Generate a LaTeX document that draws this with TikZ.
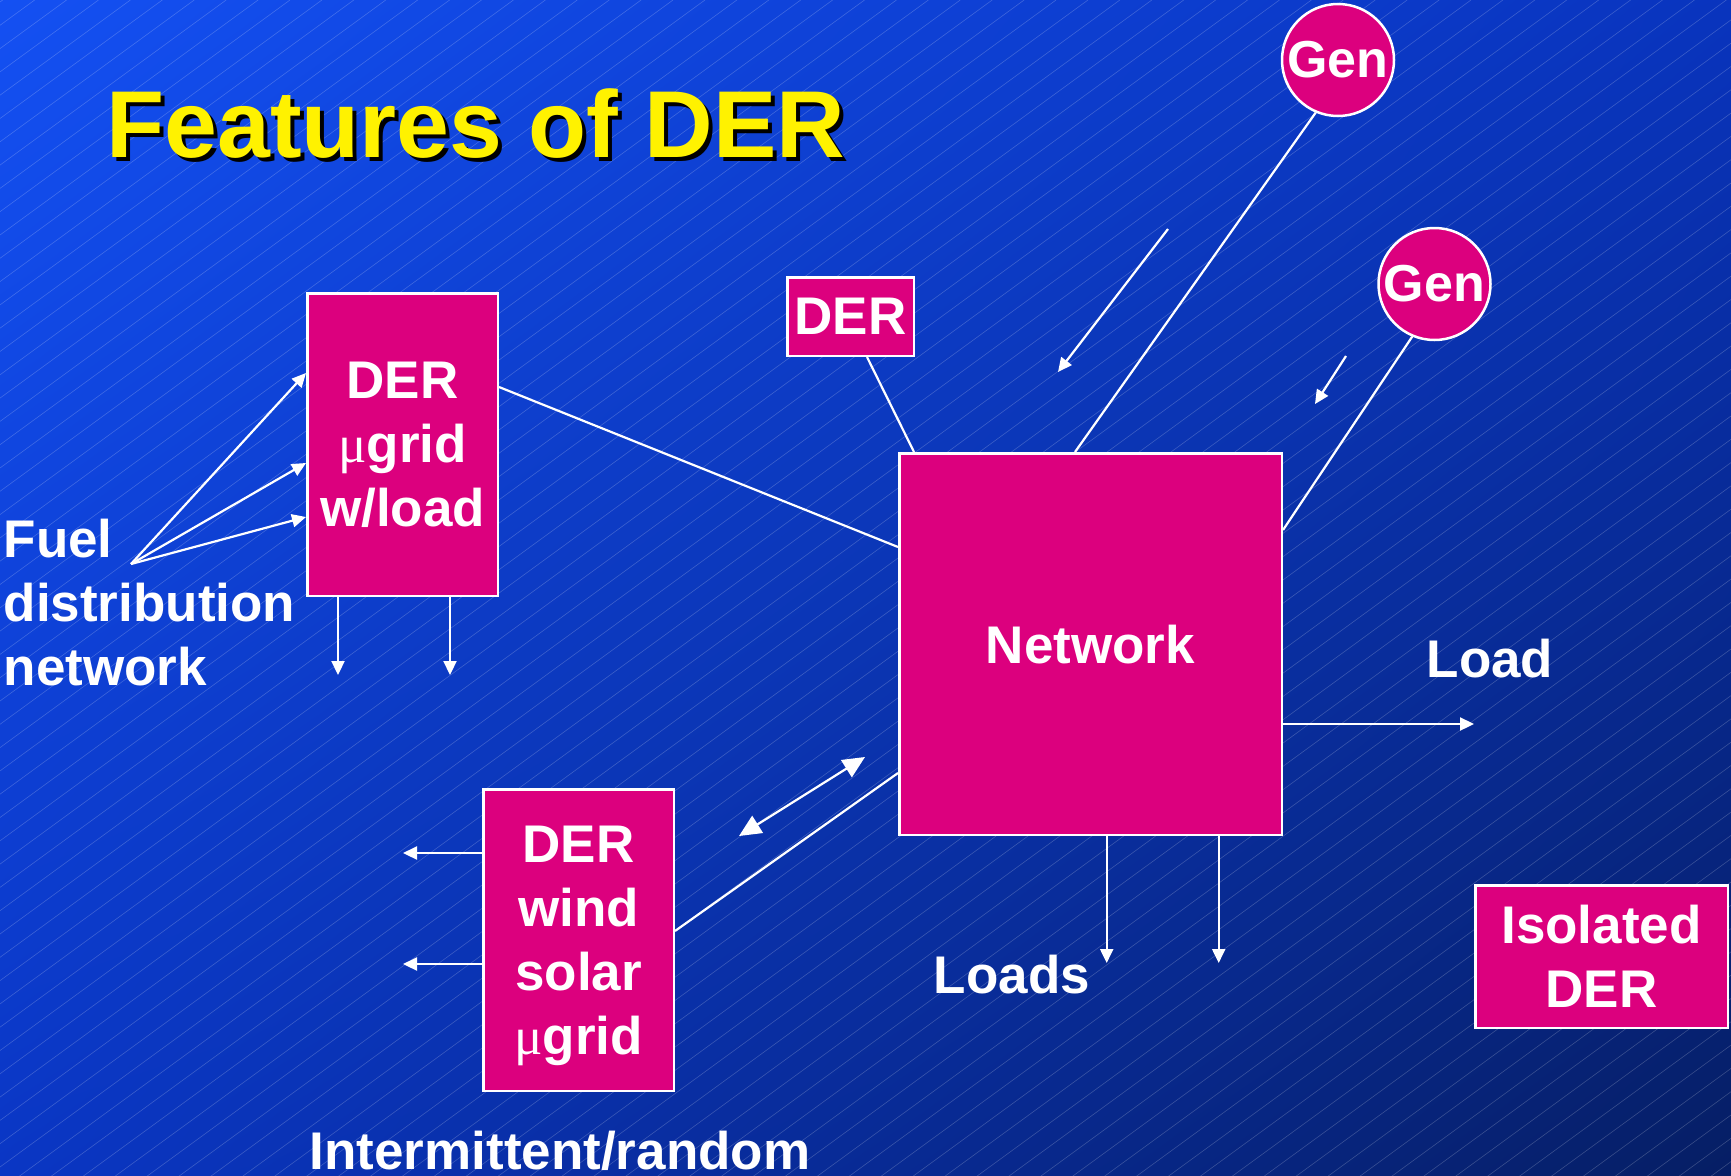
\documentclass[tikz,border=0pt]{standalone}
\usepackage{fontspec}
\setmainfont{Liberation Sans}
\newfontfamily\mufont{Liberation Serif}
\usetikzlibrary{arrows.meta,shadings}
\definecolor{mag}{RGB}{220,0,126}
\definecolor{bgUL}{RGB}{20,80,242}
\definecolor{bgUR}{RGB}{9,52,190}
\definecolor{bgLL}{RGB}{10,54,196}
\definecolor{bgLR}{RGB}{6,30,100}
\newcommand{\bodyfont}{\bfseries\fontsize{53}{64}\selectfont}
\newcommand{\genfont}{\bfseries\fontsize{52}{62}\selectfont}
\newcommand{\titlefont}{\bfseries\fontsize{95}{114}\selectfont}
\newcommand{\mug}{{\mufont\mdseries μ}grid}
\begin{document}
\begin{tikzpicture}[x=1pt,y=-1pt,
  derbox/.style={draw=white, line width=2.5pt, fill=mag, inner sep=0pt, text=white, font=\bodyfont, align=center, text depth=0pt},
  gencirc/.style={circle, draw=white, line width=2.5pt, fill=mag, inner sep=0pt, minimum size=112pt, text=white, font=\genfont},
  connline/.style={draw=white, line width=2.2pt},
  arrowline/.style={connline, -{Triangle[length=14pt,width=13pt]}},
  bigarrow/.style={connline, {Triangle[length=22pt,width=20pt]}-{Triangle[length=22pt,width=20pt]}},
  lbl/.style={text=white, font=\bodyfont, inner sep=0pt, anchor=base},
  titlelbl/.style={font=\titlefont, inner sep=0pt, anchor=base},
  stripe/.style={white, opacity=0.2, line width=0.6pt}]
\useasboundingbox (0,0) rectangle (1731,1175);
% background
\begin{scope}
\clip (0,0) rectangle (1731,1175);
\shade[upper left=bgUL, upper right=bgUR, lower left=bgLL, lower right=bgLR] (0,0) rectangle (1731,1175);
\foreach \c in {2,25.3,...,2500} \draw[stripe] (0,\c) -- ({\c/0.73},0);
\end{scope}
% title
\node[titlelbl, text=black] at (480,161) {Features of DER};
\node[titlelbl, text=yellow] (title) at (476,157) {Features of DER};
% boxes
\node[derbox, minimum width=190.5pt, minimum height=302.5pt] (dermu) at (402.5,444.5) {DER\\\mug\\w/load};
\node[derbox, minimum width=190.5pt, minimum height=301.5pt] (wind) at (578.5,940) {DER\\wind\\solar\\\mug};
\node[derbox, minimum width=126.5pt, minimum height=78.5pt] (der) at (850.5,316.5) {DER};
\node[derbox, minimum width=382.5pt, minimum height=381.5pt] (net) at (1090.5,644) {Network};
\node[derbox, minimum width=252.5pt, minimum height=142.5pt] (iso) at (1601.5,956.5) {Isolated\\DER};
\node[gencirc] (gen1) at (1338,60) {Gen};
\node[gencirc] (gen2) at (1434.5,284) {Gen};
% labels
\node[lbl, anchor=south west, align=left, text depth=0pt] (fuel) at (3.5,686) {Fuel\\distribution\\network};
\node[lbl] (load) at (1490,677) {Load};
\node[lbl] (loads) at (1012,993) {Loads};
\node[lbl] (interm) at (560,1169) {Intermittent/random};
% free ends
\coordinate (fuelpt) at (131,564);
\coordinate (d1) at (338,675);
\coordinate (d2) at (450,675);
\coordinate (w1) at (403,853);
\coordinate (w2) at (403,964);
\coordinate (n1) at (1106.7,963);
\coordinate (n2) at (1218.7,963);
\coordinate (ld) at (1474,724);
\coordinate (sa1s) at (1168,229);
\coordinate (sa1e) at (1058,372);
\coordinate (sa2s) at (1346,356);
\coordinate (sa2e) at (1315,404);
\coordinate (dba) at (739,836);
\coordinate (dbb) at (865,757);
% connectors
\draw[arrowline] (fuelpt) -- (dermu.west |- 0,373);
\draw[arrowline] (fuelpt) -- (dermu.west |- 0,463);
\draw[arrowline] (fuelpt) -- (dermu.west |- 0,517);
\draw[arrowline] (dermu.south -| d1) -- (d1);
\draw[arrowline] (dermu.south -| d2) -- (d2);
\draw[connline] (dermu.east |- 0,387) -- (net.west |- 0,547);
\draw[connline] (der.south -| 867,0) -- (net.north -| 914,0);
\draw[connline] (gen1.-113) -- (net.north -| 1075,0);
\draw[connline] (gen2.-113) -- (net.east |- 0,530);
\draw[arrowline] (sa1s) -- (sa1e);
\draw[arrowline] (sa2s) -- (sa2e);
\draw[bigarrow] (dba) -- (dbb);
\draw[connline] (wind.east |- 0,931) -- (net.west |- 0,773);
\draw[arrowline] (wind.west |- w1) -- (w1);
\draw[arrowline] (wind.west |- w2) -- (w2);
\draw[arrowline] (net.south -| n1) -- (n1);
\draw[arrowline] (net.south -| n2) -- (n2);
\draw[arrowline] (net.east |- ld) -- (ld);
\end{tikzpicture}
\end{document}
